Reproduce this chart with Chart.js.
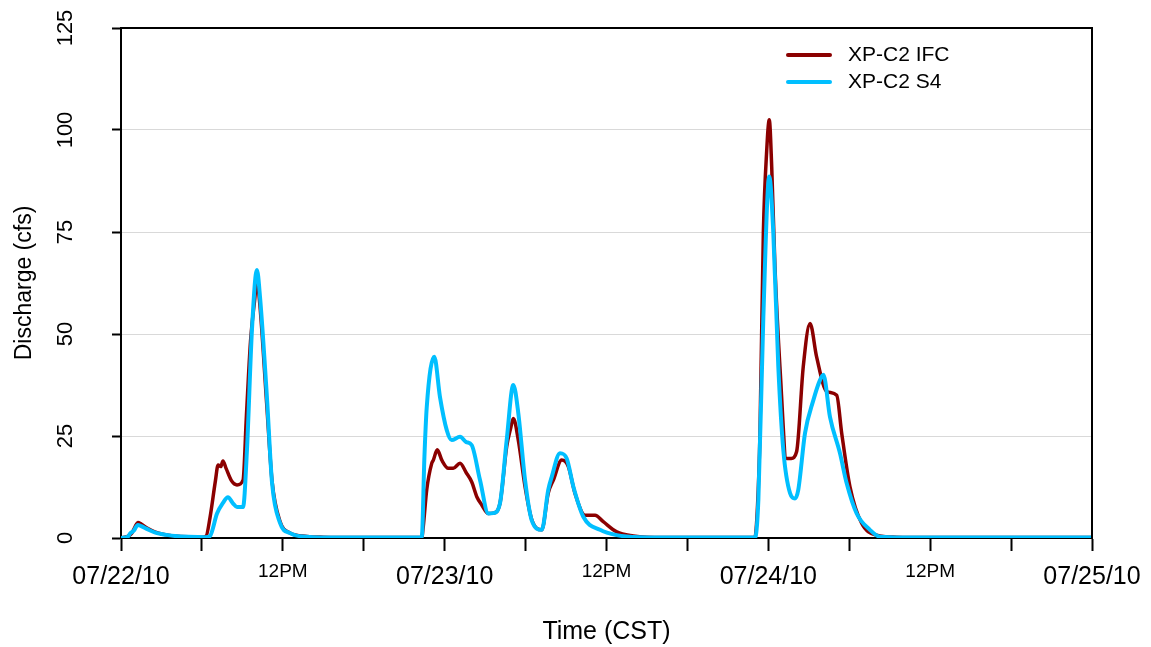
<!DOCTYPE html>
<html>
<head>
<meta charset="utf-8">
<script src="https://cdn.jsdelivr.net/npm/chart.js@4.4.1/dist/chart.umd.min.js"></script>
<style>
html,body{margin:0;padding:0;background:#fff;}
#wrap{width:1151px;height:647px;position:relative;}
</style>
</head>
<body>
<div id="wrap"><canvas id="c" width="1151" height="647"></canvas></div>
<script>
// ---- data (hours since 07/22/10 00:00 CST, discharge in cfs) ----
const seriesNames = ['XP-C2 IFC', 'XP-C2 S4'];
const dateLabels = ['07/22/10', '07/23/10', '07/24/10', '07/25/10'];
const noonLabel = '12PM';
const yTickValues = [0, 25, 50, 75, 100, 125];

const ifcHours = [0, 0.5, 0.8, 1.05, 1.25, 1.5, 2, 2.5, 3, 3.5, 4, 5, 6.0, 6.3, 6.6, 7.0, 7.2, 7.4, 7.56, 7.8, 8.2, 8.6, 9.05, 9.3, 9.6, 9.9, 10.08, 10.3, 10.8, 11.2, 11.8, 12.5, 13.8, 15, 18, 22.3,
  22.42, 22.67, 23.04, 23.16, 23.45, 23.8, 24.27, 24.64, 25.14, 25.6, 26.0, 26.4, 26.75, 27.24, 27.61, 28.1, 28.6, 28.9, 29.09, 29.46, 29.96, 30.45, 31.2, 31.68, 32.06, 32.68, 33.17, 33.66, 34.41, 35.15, 35.76, 36.76, 37.99, 39, 42, 47.0,
  47.2, 47.38, 47.63, 47.88, 48.07, 48.25, 48.49, 48.86, 49.36, 49.7, 50.1, 50.59, 51.09, 51.58, 52.33, 53.07, 53.44, 54.05, 54.92, 56.03, 57.5, 60, 72];
const ifcValues = [0, 0.4, 1.2, 2.8, 3.8, 3.4, 2.3, 1.5, 1.0, 0.7, 0.5, 0.3, 0.2, 0.4, 5, 14, 17.9, 17.5, 18.9, 17, 14, 13, 14.2, 30, 48, 58, 63, 57, 33, 14, 4, 1.3, 0.4, 0.2, 0.1, 0.1,
  3, 11.8, 18.3, 19.1, 21.6, 19, 17.1, 17.1, 18.3, 16, 13.8, 10, 8.1, 6, 6.1, 8.5, 22.4, 27, 29.3, 24, 12.6, 4.6, 2.0, 11, 14.2, 19.1, 17.5, 11, 5.6, 5.6, 4, 1.5, 0.5, 0.2, 0.1, 0.1,
  8, 25.6, 74.7, 95, 102.5, 91, 66.5, 42, 19.5, 19.5, 21.2, 42, 52.6, 44.4, 35.9, 35, 25.7, 12.6, 3.6, 0.7, 0.2, 0.1, 0.1];

const s4Hours = [0, 0.5, 0.7, 0.95, 1.25, 1.5, 2, 2.5, 3, 3.5, 4, 5, 6.3, 6.6, 7.12, 7.56, 7.93, 8.3, 8.6, 9.05, 9.34, 9.71, 10.08, 10.31, 10.83, 11.2, 11.79, 12.53, 13.79, 15, 22.3,
  22.5, 22.67, 23.23, 23.65, 24.15, 24.52, 25.14, 25.6, 26.0, 26.62, 27.24, 27.61, 28.1, 28.6, 29.09, 29.46, 29.96, 30.45, 31.2, 31.68, 31.94, 32.55, 33.05, 33.54, 34.28, 35.52, 36.76, 38.48, 42, 47.01,
  47.26, 47.63, 48.07, 48.37, 48.74, 49.11, 49.61, 49.98, 50.22, 50.72, 51.34, 51.83, 52.08, 52.57, 53.31, 53.81, 54.55, 55.53, 56.28, 58, 72];
const s4Values = [0, 0.3, 1.2, 1.8, 3.2, 2.9, 2.1, 1.4, 1.0, 0.7, 0.5, 0.3, 0.2, 0.5, 6, 8.6, 10, 8.5, 7.6, 7.6, 21.6, 51, 65.7, 59, 34, 13.5, 3.7, 1.2, 0.3, 0.15, 0.1,
  20, 32, 44.4, 34.6, 26.5, 24, 24.8, 23.5, 22.8, 14.2, 6, 6.1, 8.5, 24, 37.5, 30.6, 14.2, 4.4, 2.0, 11.8, 15, 20.8, 19.5, 12.6, 5.2, 2, 0.7, 0.2, 0.1, 0.1,
  9.3, 54.2, 88.6, 74.7, 42, 21.6, 11, 9.7, 11.8, 25.7, 33.8, 38.7, 40, 29.7, 20.8, 13.4, 6, 2, 0.3, 0.1, 0.1];

const seriesColors = ['rgb(139,0,0)', 'rgb(0,191,255)'];
const FONT = '"Liberation Sans", Arial, sans-serif';

function toPoints(hours, values) {
  return hours.map((h, i) => ({ x: h, y: values[i] }));
}

const framePlugin = {
  id: 'frame',
  afterDraw(chart) {
    const { ctx, chartArea: a } = chart;
    ctx.save();
    ctx.strokeStyle = '#000';
    ctx.lineWidth = 2;
    ctx.beginPath();
    ctx.moveTo(a.left, a.top);
    ctx.lineTo(a.right, a.top);
    ctx.lineTo(a.right, a.bottom);
    ctx.stroke();
    // y tick labels, rotated
    const ys = chart.scales.y;
    ctx.fillStyle = '#000';
    ctx.font = '22px ' + FONT;
    ctx.textAlign = 'center';
    ctx.textBaseline = 'middle';
    ys.ticks.forEach(t => {
      const y = ys.getPixelForValue(t.value);
      ctx.save();
      ctx.translate(66, y);
      ctx.rotate(-Math.PI / 2);
      ctx.fillText(String(t.value), 0, 0);
      ctx.restore();
    });
    // legend
    ctx.font = '21px ' + FONT;
    ctx.textAlign = 'left';
    ctx.lineCap = 'round';
    chart.data.datasets.forEach((ds, i) => {
      const y = 55 + i * 27;
      ctx.strokeStyle = ds.borderColor;
      ctx.lineWidth = 4;
      ctx.beginPath();
      ctx.moveTo(788, y);
      ctx.lineTo(830, y);
      ctx.stroke();
      ctx.fillStyle = '#000';
      ctx.fillText(ds.label, 848, y);
    });
    ctx.restore();
  }
};

new Chart(document.getElementById('c'), {
  type: 'line',
  data: {
    datasets: [
      { label: seriesNames[0], data: toPoints(ifcHours, ifcValues), borderColor: seriesColors[0], backgroundColor: seriesColors[0], borderWidth: 3.5, order: 1 },
      { label: seriesNames[1], data: toPoints(s4Hours, s4Values), borderColor: seriesColors[1], backgroundColor: seriesColors[1], borderWidth: 4, order: 0 }
    ]
  },
  options: {
    responsive: false,
    animation: false,
    devicePixelRatio: 1,
    layout: { padding: { left: 0, right: 59, top: 28, bottom: 0 } },
    elements: {
      point: { radius: 0 },
      line: { cubicInterpolationMode: 'monotone', borderJoinStyle: 'round', borderCapStyle: 'round', fill: false }
    },
    plugins: { legend: { display: false }, tooltip: { enabled: false } },
    scales: {
      x: {
        type: 'linear',
        min: 0, max: 72,
        afterFit(s) { s.height = 109; s.paddingLeft = 0; s.paddingRight = 0; },
        border: { display: true, color: '#000', width: 2 },
        grid: { drawOnChartArea: false, drawTicks: true, tickLength: 13, tickColor: '#000', tickWidth: 2 },
        ticks: {
          stepSize: 6,
          autoSkip: false,
          maxRotation: 0,
          minRotation: 0,
          padding: 13.5,
          color: '#000',
          font: (c) => {
            const v = c.tick ? c.tick.value : 0;
            return (v % 24 === 0) ? { family: FONT, size: 25, lineHeight: 1.0 } : { family: FONT, size: 19, lineHeight: 0.74 };
          },
          callback: (v) => {
            if (v % 24 === 0) return dateLabels[v / 24];
            if (v % 12 === 0) return noonLabel;
            return '';
          }
        },
        title: { display: true, text: 'Time (CST)', color: '#000', font: { family: FONT, size: 25, lineHeight: 1.2 }, padding: { top: 0, bottom: 0 } }
      },
      y: {
        min: yTickValues[0], max: yTickValues[yTickValues.length - 1],
        afterFit(s) { s.width = 121; s.paddingTop = 0; s.paddingBottom = 0; },
        afterBuildTicks(s) { s.ticks = yTickValues.map(v => ({ value: v })); },
        border: { display: true, color: '#000', width: 2 },
        grid: {
          drawTicks: true, tickLength: 9, tickColor: '#000', tickWidth: 2, lineWidth: 1,
          color: (c) => (c.tick && (c.tick.value === 0 || c.tick.value === 125)) ? 'rgba(0,0,0,0)' : '#d9d9d9'
        },
        ticks: { display: false },
        title: { display: true, text: 'Discharge (cfs)', color: '#000', font: { family: FONT, size: 23, lineHeight: 1.2 }, padding: { top: 11, bottom: 0 } }
      }
    }
  },
  plugins: [framePlugin]
});
</script>
</body>
</html>
